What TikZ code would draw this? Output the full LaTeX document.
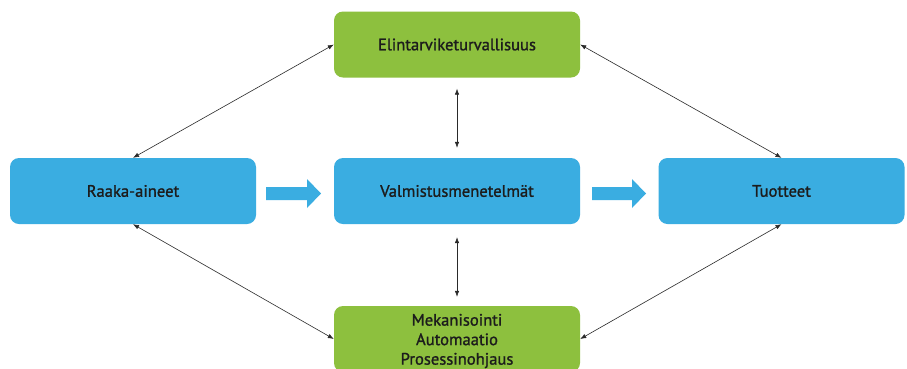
\documentclass[tikz,border=0pt]{standalone}
\usepackage{fontspec}
\setmainfont{PT Sans}[FakeBold=1.2,BoldFont={PT Sans}]
\usetikzlibrary{arrows.meta}
\definecolor{boxblue}{HTML}{3AADE1}
\definecolor{boxgreen}{HTML}{8DC03E}
\definecolor{ink}{HTML}{1C1C1C}
\definecolor{linkgray}{HTML}{2A2A2A}
\begin{document}
\begin{tikzpicture}[x=1pt,y=-1pt,
  boxbase/.style={rounded corners=9pt, minimum width=246pt, minimum height=66pt,
    inner sep=0pt, align=center, text=ink,
    font=\fontsize{16.6}{19.5}\selectfont\bfseries},
  stagebox/.style={boxbase, fill=boxblue},
  themebox/.style={boxbase, fill=boxgreen},
  link/.style={draw=linkgray, line width=0.6pt, {Latex[length=6pt,width=4.5pt]}-{Latex[length=6pt,width=4.5pt]}},
  flow/.style={fill=boxblue}]
\useasboundingbox (0,0) rectangle (907,368);
\fill[white] (0,0) rectangle (907,368);

% stages of production
\node[stagebox] (raw)  at (133,191)   {Raaka-aineet};
\node[stagebox] (proc) at (457,191)   {Valmistusmenetelmät};
\node[stagebox] (prod) at (781.5,191) {Tuotteet};

% cross-cutting themes
\node[themebox] (safe) at (457,44.5) {Elintarviketurvallisuus};
\begin{scope}
\clip (0,0) rectangle (907,368);
\node[themebox] (auto) at (457,339) {};
\node[text=ink, align=center, inner sep=0pt, font=\fontsize{16.6}{19.5}\selectfont\bfseries]
  (autotext) at (457,341) {Mekanisointi\\Automaatio\\Prosessinohjaus};
\end{scope}

% main flow arrows
\fill[flow] (266,187) -- (307,187) -- (307,179) -- (321,193.5) -- (307,208) -- (307,200) -- (266,200) -- cycle;
\fill[flow] (592,187) -- (632,187) -- (632,179) -- (646,193.5) -- (632,208) -- (632,200) -- (592,200) -- cycle;

% links between themes and stages
\draw[link] (raw.north) -- (safe.west);
\draw[link] (safe.east) -- (prod.north);
\draw[link] (raw.south) -- (auto.west);
\draw[link] (prod.south) -- (auto.east);
\draw[link, shorten <=11pt, shorten >=10pt] (safe.south) -- (proc.north);
\draw[link, shorten <=13pt, shorten >=9pt] (proc.south) -- (auto.north);
\end{tikzpicture}
\end{document}
